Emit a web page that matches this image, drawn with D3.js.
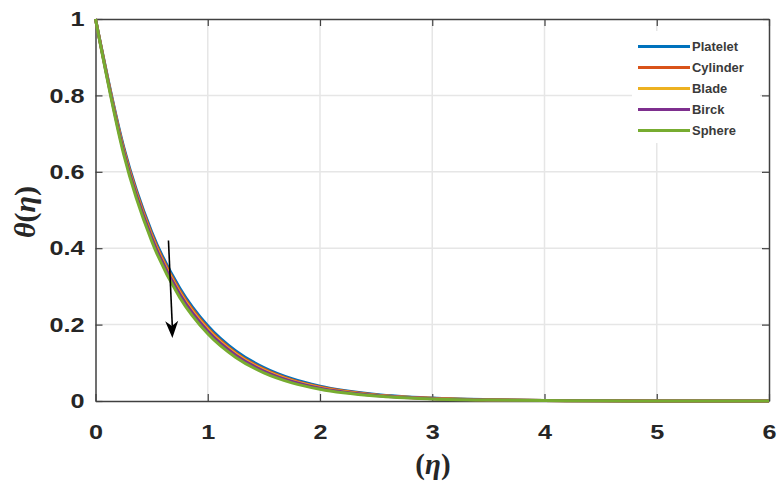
<!DOCTYPE html>
<html>
<head>
<meta charset="utf-8">
<script src="https://cdn.jsdelivr.net/npm/d3@7"></script>
<style>
  body { margin: 0; background: #fff; }
  svg { display: block; }
  .tick text { font-family: "Liberation Sans", Arial, sans-serif; font-weight: bold; font-size: 21px; fill: #262626; }
</style>
</head>
<body>
<svg id="chart" width="779" height="490"></svg>
<script>
// eta grid and theta values
var eta = [0, 0.25, 0.5, 0.75, 1, 1.25, 1.5, 1.75, 2, 2.5, 3, 3.5, 4, 4.5, 5, 5.5, 6];
var platelet = [1, 0.666, 0.443, 0.296, 0.197, 0.131, 0.0874, 0.0582, 0.0388, 0.0172, 0.0076, 0.0034, 0.0015, 0.0006, 0.0003, 0.0001, 0];
var cylinder = [1, 0.661, 0.437, 0.289, 0.191, 0.126, 0.0835, 0.0552, 0.0365, 0.0159, 0.0070, 0.0031, 0.0013, 0.0006, 0.0002, 0.0001, 0];
var blade    = [1, 0.657, 0.432, 0.284, 0.187, 0.123, 0.0808, 0.0531, 0.0349, 0.0151, 0.0065, 0.0028, 0.0012, 0.0005, 0.0002, 0.0001, 0];
var birck    = [1, 0.654, 0.428, 0.280, 0.183, 0.120, 0.0785, 0.0513, 0.0336, 0.0144, 0.0062, 0.0027, 0.0011, 0.0005, 0.0002, 0.0001, 0];
var sphere   = [1, 0.647, 0.419, 0.271, 0.176, 0.114, 0.0736, 0.0476, 0.0308, 0.0129, 0.0054, 0.0023, 0.0010, 0.0004, 0.0002, 0.0001, 0];

var seriesNames = ["Platelet", "Cylinder", "Blade", "Birck", "Sphere"];
var seriesData = [platelet, cylinder, blade, birck, sphere];
var colors = ["#0072BD", "#D95319", "#EDB120", "#7E2F8E", "#77AC30"];

var xTicks = [0, 1, 2, 3, 4, 5, 6];
var yTicks = [0, 0.2, 0.4, 0.6, 0.8, 1];

// arrow: from (eta, theta) to (eta, theta)
var arrowFrom = [0.65, 0.42];
var arrowTo = [0.685, 0.165];

var svg = d3.select("#chart");
var plotL = 95.5, plotR = 769, plotT = 19, plotB = 401;

var x = d3.scaleLinear().domain([0, 6]).range([plotL, plotR]);
var y = d3.scaleLinear().domain([0, 1]).range([plotB, plotT]);

// grid
var grid = svg.append("g");
grid.selectAll("line.gx").data(xTicks.slice(1, -1)).enter().append("line")
  .attr("x1", function(d){ return x(d) }).attr("x2", function(d){ return x(d) })
  .attr("y1", plotT).attr("y2", plotB)
  .attr("stroke", "#e6e6e6").attr("stroke-width", 1.5);
grid.selectAll("line.gy").data(yTicks.slice(1, -1)).enter().append("line")
  .attr("y1", function(d){ return y(d) }).attr("y2", function(d){ return y(d) })
  .attr("x1", plotL).attr("x2", plotR)
  .attr("stroke", "#e6e6e6").attr("stroke-width", 1.5);

// axes
var xAx = svg.append("g").attr("transform", "translate(0," + plotB + ")")
  .call(d3.axisBottom(x).tickValues(xTicks).tickFormat(d3.format("d")).tickSizeInner(-7).tickSizeOuter(0).tickPadding(23));
var yAx = svg.append("g").attr("transform", "translate(" + plotL + ",0)")
  .call(d3.axisLeft(y).tickValues(yTicks).tickFormat(function(d){ return d === 0 || d === 1 ? d : d3.format(".1f")(d) }).tickSizeInner(-7).tickSizeOuter(0).tickPadding(11));
// labels in the picture are a little wider than the font
xAx.selectAll(".tick text").attr("transform", "scale(1.2,1)");
yAx.selectAll(".tick text").attr("x", -11 / 1.2).attr("transform", "scale(1.2,1)");
svg.append("g").attr("transform", "translate(0," + plotT + ")")
  .call(d3.axisTop(x).tickValues(xTicks).tickFormat("").tickSizeInner(-7).tickSizeOuter(0));
svg.append("g").attr("transform", "translate(" + plotR + ",0)")
  .call(d3.axisRight(y).tickValues(yTicks).tickFormat("").tickSizeInner(-7).tickSizeOuter(0));
svg.selectAll(".domain").attr("stroke", "#404040").attr("stroke-width", 1.5);
svg.selectAll(".tick line").attr("stroke", "#404040").attr("stroke-width", 1.2);

// curves
var line = d3.line()
  .x(function(d){ return x(d[0]) })
  .y(function(d){ return y(d[1]) })
  .curve(d3.curveMonotoneX);

seriesData.forEach(function(s, i) {
  svg.append("path")
    .datum(eta.map(function(e, j){ return [e, s[j]] }))
    .attr("d", line)
    .attr("fill", "none")
    .attr("stroke", colors[i])
    .attr("stroke-width", 3);
});

// arrow
var ax1 = x(arrowFrom[0]), ay1 = y(arrowFrom[1]), ax2 = x(arrowTo[0]), ay2 = y(arrowTo[1]);
svg.append("line")
  .attr("x1", ax1).attr("y1", ay1).attr("x2", ax2).attr("y2", ay2 - 10)
  .attr("stroke", "#000").attr("stroke-width", 1.6);
// head drawn as a small polygon at the tip
var ang = Math.atan2(ay2 - ay1, ax2 - ax1) * 180 / Math.PI - 90;
svg.append("path")
  .attr("d", "M-6.5,-17 L0,-12 L6.5,-17 L0,0 Z")
  .attr("transform", "translate(" + ax2 + "," + ay2 + ") rotate(" + ang + ")")
  .attr("fill", "#000");

// legend
var legend = svg.append("g");
legend.append("rect").attr("x", 632).attr("y", 31).attr("width", 128).attr("height", 112).attr("fill", "#fff");
seriesNames.forEach(function(name, i) {
  var ly = 46.5 + i * 21;
  legend.append("line").attr("x1", 638).attr("x2", 690).attr("y1", ly).attr("y2", ly)
    .attr("stroke", colors[i]).attr("stroke-width", 3);
  legend.append("text").attr("x", 692 / 1.08).attr("y", ly + 4.5)
    .attr("transform", "scale(1.08,1)")
    .attr("font-family", "Liberation Sans, Arial, sans-serif").attr("font-size", 12)
    .attr("font-weight", "bold").attr("fill", "#3a3a3a").text(name);
});

// axis titles
svg.append("text").attr("x", 433).attr("y", 474).attr("text-anchor", "middle")
  .attr("font-family", "Liberation Serif, Times New Roman, serif").attr("font-size", 29)
  .attr("font-weight", "bold").attr("fill", "#262626")
  .html('(<tspan font-style="italic">η</tspan>)');
svg.append("text").attr("transform", "translate(35,212) rotate(-90)").attr("text-anchor", "middle")
  .attr("font-family", "Liberation Serif, Times New Roman, serif").attr("font-size", 30)
  .attr("font-weight", "bold").attr("fill", "#262626")
  .html('<tspan font-style="italic">θ</tspan>(<tspan font-style="italic">η</tspan>)');
</script>
</body>
</html>
